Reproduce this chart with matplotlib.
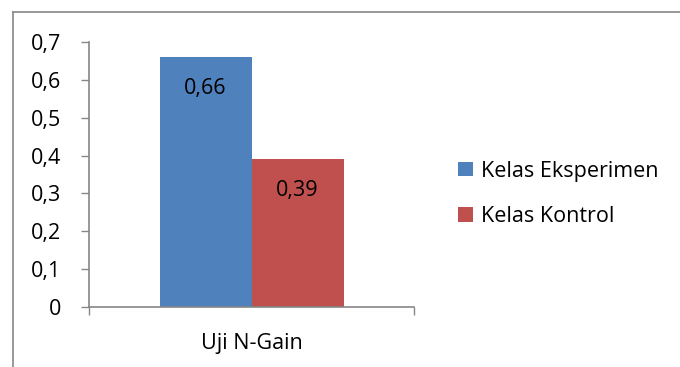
import matplotlib
matplotlib.use("Agg")
import matplotlib.pyplot as plt
from matplotlib.lines import Line2D

# data
category = "Uji N-Gain"
series = ["Kelas Eksperimen", "Kelas Kontrol"]
values = [0.66, 0.39]
colors = ["#4F81BD", "#C0504D"]
yticks = [0, 0.1, 0.2, 0.3, 0.4, 0.5, 0.6, 0.7]
ytick_labels = ["0", "0,1", "0,2", "0,3", "0,4", "0,5", "0,6", "0,7"]
value_labels = ["0,66", "0,39"]

plt.rcParams['font.family'] = ['Open Sans', 'DejaVu Sans']
grey = "#868686"
fs = 15.5

fig = plt.figure(figsize=(6.8, 3.67), dpi=100)
ax = fig.add_axes([89 / 680, 1 - 307 / 367, 325 / 680, (307 - 42) / 367])

width = 92 / 325
xs = [-width / 2, width / 2]
bars = []
for x, v, c, lab, s in zip(xs, values, colors, value_labels, series):
    b = ax.bar(x, v, width=width, color=c, label=s)
    bars.append(b)
    ax.text(x, v - 0.082, lab, ha="center", va="center", fontsize=fs, color="black")

ax.set_xlim(-0.5, 0.5)
ax.set_ylim(0, 0.7)
ax.set_yticks(yticks)
ax.set_yticklabels(ytick_labels, fontsize=fs)
ax.tick_params(axis="y", direction="out", length=6, width=1, color=grey, pad=14)

# category label, ticks only at the group edges
ax.set_xticks([-0.5, 0.5])
ax.set_xticklabels(["", ""])
ax.set_xticks([0], minor=True)
ax.set_xticklabels([category], minor=True, fontsize=fs)
ax.tick_params(axis="x", which="major", direction="out", length=6, width=1, color=grey)
ax.tick_params(axis="x", which="minor", length=0, pad=19)

for sp in ["top", "right"]:
    ax.spines[sp].set_visible(False)
for sp in ["left", "bottom"]:
    ax.spines[sp].set_color(grey)
    ax.spines[sp].set_linewidth(1.2)

fig.legend(handles=[b[0] for b in bars], labels=series, loc="center left",
           bbox_to_anchor=(439 / 680, 1 - 194 / 367), frameon=False, fontsize=fs,
           handlelength=0.68, handleheight=0.68, handletextpad=0.35, labelspacing=1.15)

# outer chart frame
fig.add_artist(Line2D([13 / 680, 1], [1 - 12 / 367, 1 - 12 / 367], color=grey, lw=1.2))
fig.add_artist(Line2D([13 / 680, 13 / 680], [0, 1 - 12 / 367], color=grey, lw=1.2))

fig.savefig("out.png", dpi=100)
